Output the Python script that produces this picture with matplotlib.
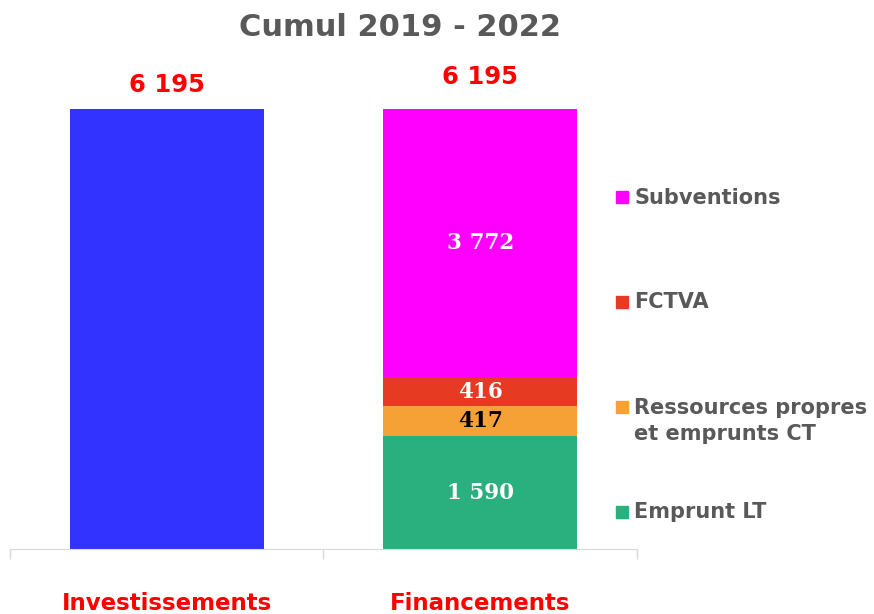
import matplotlib.pyplot as plt
from matplotlib.patches import Rectangle

# data
categories = ['Investissements', 'Financements']
invest_total = 6195
fin_labels = ['Emprunt LT', 'Ressources propres\net emprunts CT', 'FCTVA', 'Subventions']
fin_values = [1590, 417, 416, 3772]
fin_colors = ['#2AAF7F', '#F5A135', '#E63A22', '#FF00FF']
fin_text_colors = ['white', 'black', 'white', 'white']
total_labels = ['6 195', '6 195']

W, H = 874, 614
fig = plt.figure(figsize=(W / 100, H / 100), dpi=100)
ax = fig.add_axes([10 / W, 65 / H, 627 / W, 440 / H])

def fmt(v):
    return f'{v:,}'.replace(',', ' ')

# bars
ax.bar(0, invest_total, width=0.62, color='#3333FF')
bottom = 0
for v, c, tc in zip(fin_values, fin_colors, fin_text_colors):
    ax.bar(1, v, width=0.62, bottom=bottom, color=c)
    ax.text(1, bottom + v / 2, fmt(v), ha='center', va='center', color=tc,
            fontsize=15.5, fontweight='bold', family='DejaVu Serif')
    bottom += v

# totals above bars
tops = [invest_total, sum(fin_values)]
offs = [17, 23]
for i, (t, lab) in enumerate(zip(tops, total_labels)):
    ax.annotate(lab, (i, t), xytext=(0, offs[i]), textcoords='offset points',
                ha='center', va='center', color='red', fontsize=17.5, fontweight='bold',
                annotation_clip=False)

ax.set_xlim(-0.5, 1.5)
ax.set_ylim(0, invest_total)
for s in ['top', 'right', 'left']:
    ax.spines[s].set_visible(False)
ax.spines['bottom'].set_color('#D9D9D9')
ax.set_yticks([])
ax.set_xticks([0, 1], categories)
ax.tick_params(axis='x', which='major', length=0, pad=31, labelsize=16.5, labelcolor='red')
for lab in ax.get_xticklabels():
    lab.set_fontweight('bold')
ax.set_xticks([-0.5, 0.5, 1.5], minor=True)
ax.tick_params(axis='x', which='minor', length=7, color='#D9D9D9', width=1)

# title
fig.text(400 / W, 1 - 27 / H, 'Cumul 2019 - 2022', ha='center', va='center',
         fontsize=22, fontweight='bold', color='#595959')

# legend (drawn by hand, top to bottom)
leg_labels = fin_labels[::-1]
leg_colors = fin_colors[::-1]
for k, (lab, c) in enumerate(zip(leg_labels, leg_colors)):
    yc = 196.5 + 105 * k
    fig.add_artist(Rectangle((616 / W, 1 - (yc + 6) / H), 12 / W, 12 / H,
                             transform=fig.transFigure, color=c))
    lines = lab.split('\n')
    for j, line in enumerate(lines):
        fig.text(634 / W, 1 - (yc + 7 + 26 * j) / H, line, ha='left', va='baseline',
                 fontsize=15, fontweight='bold', color='#595959')

fig.savefig('out.png', dpi=100)
